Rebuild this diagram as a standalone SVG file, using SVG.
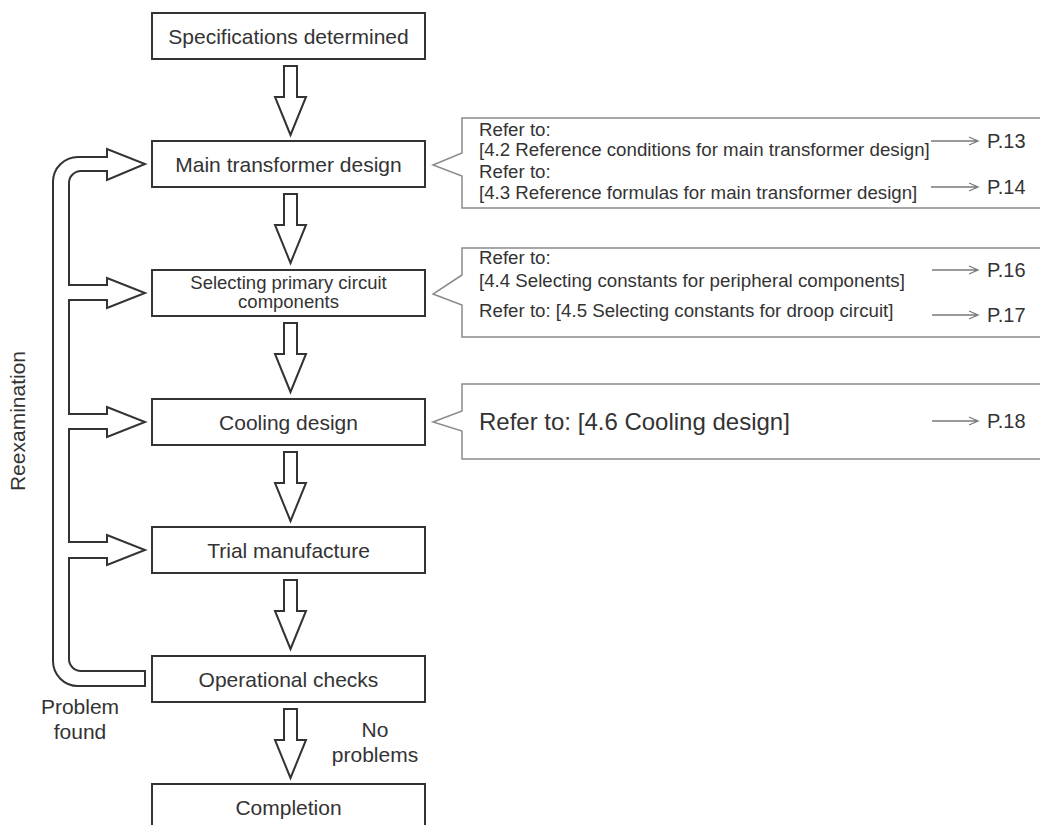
<svg xmlns="http://www.w3.org/2000/svg" width="1040" height="825" viewBox="0 0 1040 825">
<defs>
<style>
.box{fill:#fff;stroke:#333;stroke-width:2}
.bt{font-family:"Liberation Sans",Arial,sans-serif;font-size:21px;fill:#333;text-anchor:middle}
.bts{font-family:"Liberation Sans",Arial,sans-serif;font-size:18.5px;fill:#333;text-anchor:middle}
.blk{fill:#fff;stroke:#333;stroke-width:2;stroke-linejoin:miter}
.co{fill:#fff;stroke:#8a8a8a;stroke-width:1.5}
.ct{font-family:"Liberation Sans",Arial,sans-serif;font-size:18.7px;fill:#333}
.ctl{font-family:"Liberation Sans",Arial,sans-serif;font-size:24px;fill:#333}
.pt{font-family:"Liberation Sans",Arial,sans-serif;font-size:20px;fill:#333}
.lab{font-family:"Liberation Sans",Arial,sans-serif;font-size:21px;fill:#333;text-anchor:middle}
.ga{fill:none;stroke:#7a7a7a;stroke-width:1.3}
</style>
<path id="down" d="M-6.5,0 L6.5,0 L6.5,31 L15.5,31 L0,69 L-15.5,31 L-6.5,31 Z"/>
</defs>

<g id="connectors">
<use href="#down" x="290.5" y="66" class="blk"/>
<use href="#down" x="290.5" y="194" class="blk"/>
<use href="#down" x="290.5" y="323" class="blk"/>
<use href="#down" x="290.5" y="452" class="blk"/>
<use href="#down" x="290.5" y="580" class="blk"/>
<use href="#down" x="290.5" y="709" class="blk"/>
<path class="blk" d="M145,686 L78,686 A25,25 0 0 1 53,661 L53,182 A25,25 0 0 1 78,157 L107,157 L107,149 L145,164 L107,180 L107,171 L81,171 A12,12 0 0 0 69,183 L69,285 L107,285 L107,278 L145,293 L107,308 L107,300 L69,300 L69,414 L107,414 L107,407 L145,422 L107,437 L107,429 L69,429 L69,542 L107,542 L107,535 L145,550 L107,565 L107,558 L69,558 L69,659 A12,12 0 0 0 81,671 L145,671 Z"/>
</g>

<g id="n_spec"><rect class="box" x="152" y="13" width="273" height="46"/><text class="bt" x="288.5" y="43.5">Specifications determined</text></g>
<g id="n_main"><rect class="box" x="152" y="141" width="273" height="46"/><text class="bt" x="288.5" y="171.5">Main transformer design</text></g>
<g id="n_select"><rect class="box" x="152" y="270" width="273" height="46"/><text class="bts" x="288.5" y="288.5">Selecting primary circuit</text><text class="bts" x="288.5" y="308">components</text></g>
<g id="n_cool"><rect class="box" x="152" y="399" width="273" height="46"/><text class="bt" x="288.5" y="429.5">Cooling design</text></g>
<g id="n_trial"><rect class="box" x="152" y="527" width="273" height="46"/><text class="bt" x="288.5" y="557.5">Trial manufacture</text></g>
<g id="n_ops"><rect class="box" x="152" y="656" width="273" height="46"/><text class="bt" x="288.5" y="686.5">Operational checks</text></g>
<g id="n_done"><rect class="box" x="152" y="784" width="273" height="46"/><text class="bt" x="288.5" y="814.5">Completion</text></g>

<g id="labels">
<text class="lab" transform="translate(25,421) rotate(-90)">Reexamination</text>
<text class="lab" x="80" y="714">Problem</text>
<text class="lab" x="80" y="739">found</text>
<text class="lab" x="375" y="737">No</text>
<text class="lab" x="375" y="762">problems</text>
</g>

<g id="callout1">
<path class="co" d="M462,118 L1046,118 L1046,208 L462,208 L462,176 L433,165 L462,153 Z"/>
<text class="ct" x="479" y="136">Refer to:</text>
<text class="ct" x="479" y="156">[4.2 Reference conditions for main transformer design]</text>
<text class="ct" x="479" y="178">Refer to:</text>
<text class="ct" x="479" y="199">[4.3 Reference formulas for main transformer design]</text>
<path class="ga" d="M931,141 H978 M969,137 L978,141 L969,145"/>
<text class="pt" x="987" y="148">P.13</text>
<path class="ga" d="M931,187 H978 M969,183 L978,187 L969,191"/>
<text class="pt" x="987" y="194">P.14</text>
</g>

<g id="callout2">
<path class="co" d="M462,248 L1046,248 L1046,337 L462,337 L462,305 L433,294 L462,275 Z"/>
<text class="ct" x="479" y="264">Refer to:</text>
<text class="ct" x="479" y="287">[4.4 Selecting constants for peripheral components]</text>
<text class="ct" x="479" y="317">Refer to: [4.5 Selecting constants for droop circuit]</text>
<path class="ga" d="M932,270 H978 M969,266 L978,270 L969,274"/>
<text class="pt" x="987" y="277">P.16</text>
<path class="ga" d="M932,315 H978 M969,311 L978,315 L969,319"/>
<text class="pt" x="987" y="322">P.17</text>
</g>

<g id="callout3">
<path class="co" d="M462,384 L1046,384 L1046,459 L462,459 L462,431 L433,422 L462,411 Z"/>
<text class="ctl" x="479" y="430">Refer to: [4.6 Cooling design]</text>
<path class="ga" d="M932,421 H978 M969,417 L978,421 L969,425"/>
<text class="pt" x="987" y="428">P.18</text>
</g>
</svg>
